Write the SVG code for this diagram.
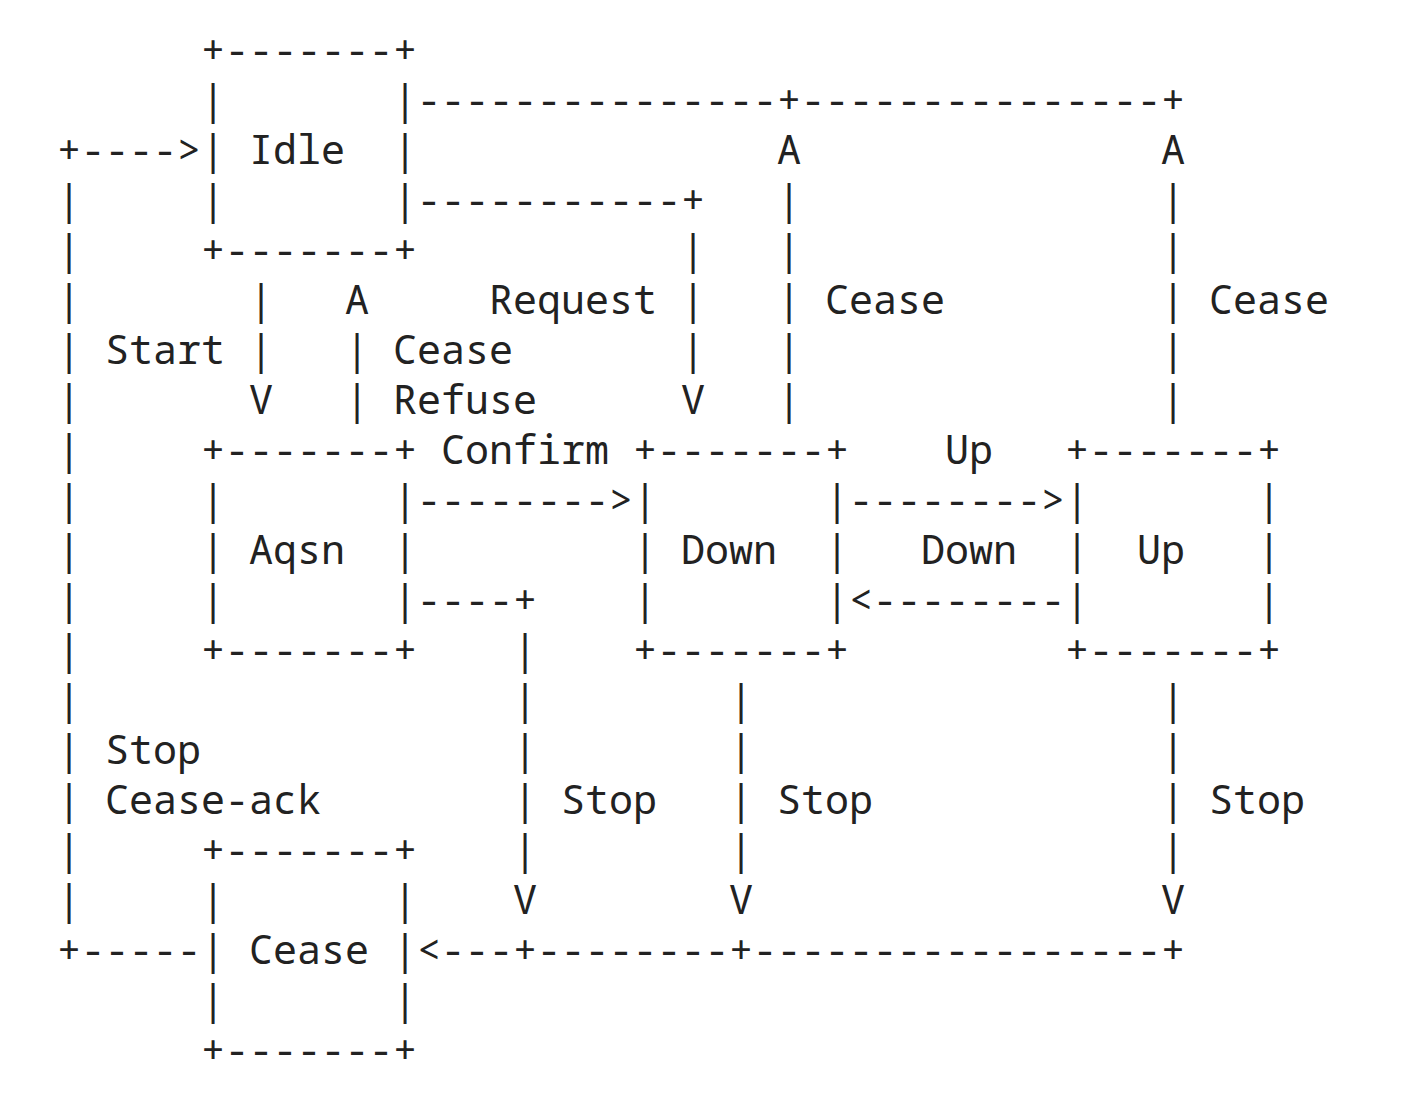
<svg xmlns="http://www.w3.org/2000/svg" width="1424" height="1103" viewBox="0 0 1424 1103">
<style>
text{font-family:"Noto Sans Mono","DejaVu Sans Mono","Liberation Mono",monospace;font-size:40px;fill:#222;white-space:pre}
</style>
<rect width="1424" height="1103" fill="#fff"/>
<g id="node-idle">
<text x="201" y="64">+-------+</text>
<text x="201" y="114">|       |</text>
<text x="201" y="164">| Idle  |</text>
<text x="201" y="214">|       |</text>
<text x="201" y="264">+-------+</text>
</g>
<g id="node-aqsn">
<text x="201" y="464">+-------+</text>
<text x="201" y="514">|       |</text>
<text x="201" y="564">| Aqsn  |</text>
<text x="201" y="614">|       |</text>
<text x="201" y="664">+-------+</text>
</g>
<g id="node-down">
<text x="633" y="464">+-------+</text>
<text x="633" y="514">|       |</text>
<text x="633" y="564">| Down  |</text>
<text x="633" y="614">|       |</text>
<text x="633" y="664">+-------+</text>
</g>
<g id="node-up">
<text x="1065" y="464">+-------+</text>
<text x="1065" y="514">|       |</text>
<text x="1065" y="564">|  Up   |</text>
<text x="1065" y="614">|       |</text>
<text x="1065" y="664">+-------+</text>
</g>
<g id="node-cease">
<text x="201" y="864">+-------+</text>
<text x="201" y="914">|       |</text>
<text x="201" y="964">| Cease |</text>
<text x="201" y="1014">|       |</text>
<text x="201" y="1064">+-------+</text>
</g>
<g id="connectors">
<text x="417" y="114">---------------+---------------+</text>
<text x="57" y="164">+----&gt;</text><text x="777" y="164">A</text><text x="1161" y="164">A</text>
<text x="57" y="214">|</text><text x="417" y="214">-----------+</text><text x="777" y="214">|</text><text x="1161" y="214">|</text>
<text x="57" y="264">|</text><text x="681" y="264">|</text><text x="777" y="264">|</text><text x="1161" y="264">|</text>
<text x="57" y="314">|</text><text x="249" y="314">|</text><text x="345" y="314">A</text><text x="489" y="314">Request</text><text x="681" y="314">|</text><text x="777" y="314">|</text><text x="825" y="314">Cease</text><text x="1161" y="314">|</text><text x="1209" y="314">Cease</text>
<text x="57" y="364">|</text><text x="105" y="364">Start</text><text x="249" y="364">|</text><text x="345" y="364">|</text><text x="393" y="364">Cease</text><text x="681" y="364">|</text><text x="777" y="364">|</text><text x="1161" y="364">|</text>
<text x="57" y="414">|</text><text x="249" y="414">V</text><text x="345" y="414">|</text><text x="393" y="414">Refuse</text><text x="681" y="414">V</text><text x="777" y="414">|</text><text x="1161" y="414">|</text>
<text x="57" y="464">|</text><text x="441" y="464">Confirm</text><text x="945" y="464">Up</text>
<text x="57" y="514">|</text><text x="417" y="514">--------&gt;</text><text x="849" y="514">--------&gt;</text>
<text x="57" y="564">|</text><text x="921" y="564">Down</text>
<text x="57" y="614">|</text><text x="417" y="614">----+</text><text x="849" y="614">&lt;--------</text>
<text x="57" y="664">|</text><text x="513" y="664">|</text>
<text x="57" y="714">|</text><text x="513" y="714">|</text><text x="729" y="714">|</text><text x="1161" y="714">|</text>
<text x="57" y="764">|</text><text x="105" y="764">Stop</text><text x="513" y="764">|</text><text x="729" y="764">|</text><text x="1161" y="764">|</text>
<text x="57" y="814">|</text><text x="105" y="814">Cease-ack</text><text x="513" y="814">|</text><text x="561" y="814">Stop</text><text x="729" y="814">|</text><text x="777" y="814">Stop</text><text x="1161" y="814">|</text><text x="1209" y="814">Stop</text>
<text x="57" y="864">|</text><text x="513" y="864">|</text><text x="729" y="864">|</text><text x="1161" y="864">|</text>
<text x="57" y="914">|</text><text x="513" y="914">V</text><text x="729" y="914">V</text><text x="1161" y="914">V</text>
<text x="57" y="964">+-----</text><text x="417" y="964">&lt;---+--------+-----------------+</text>
</g>
</svg>
